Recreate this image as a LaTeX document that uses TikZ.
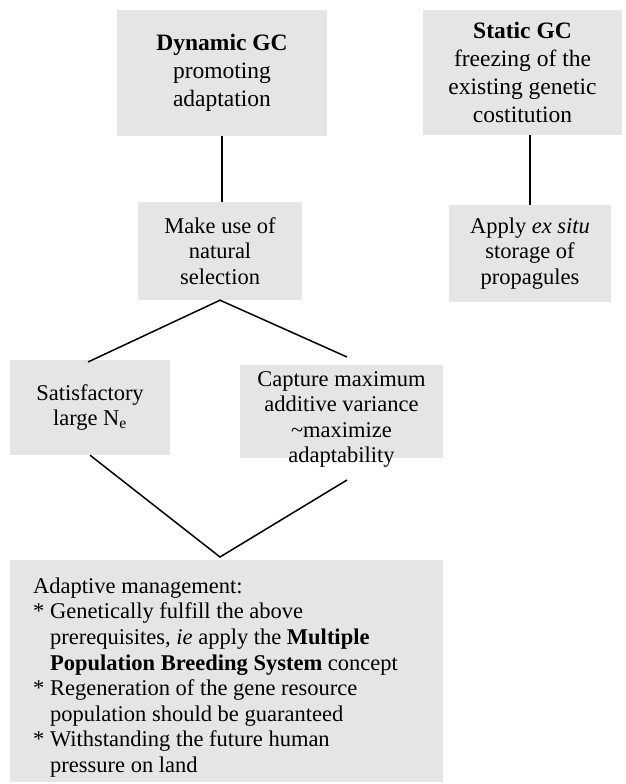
\documentclass[tikz,border=0pt]{standalone}
\usepackage{fontspec}
\setmainfont{Liberation Serif}
\usetikzlibrary{calc}
\definecolor{boxgray}{RGB}{229,229,229}
\begin{document}
\begin{tikzpicture}[x=1pt,y=-1pt,
  gbox/.style={fill=boxgray, draw=none, inner sep=0pt, align=center},
  topfont/.style={font=\fontsize{23.5}{28}\selectfont},
  lowfont/.style={font=\fontsize{22.5}{25.6}\selectfont},
  conn/.style={line width=1.5pt, black}]
\useasboundingbox (0,0) rectangle (625,784);
\fill[white] (0,0) rectangle (625,784);

\node[gbox, topfont, minimum width=210pt, minimum height=126pt] (dyn) at (222,73)
  {\textbf{Dynamic GC}\\promoting\\adaptation};
\node[gbox, topfont, minimum width=199pt, minimum height=125pt] (stat) at (522.5,72.5)
  {\textbf{Static GC}\\freezing of the\\existing genetic\\costitution};
\node[gbox, lowfont, minimum width=164pt, minimum height=98pt] (make) at (220,251)
  {Make use of\\natural\\selection};
\node[gbox, lowfont, minimum width=162pt, minimum height=97pt] (apply) at (530,253.5)
  {Apply \textit{ex situ}\\storage of\\propagules};
\node[gbox, lowfont, minimum width=160pt, minimum height=95pt] (sat) at (90,407.5)
  {Satisfactory\\large N\textsubscript{e}};
\node[gbox, minimum width=203pt, minimum height=93pt] (capbox) at (341.5,411.5) {};
\node[lowfont, align=center, inner sep=0pt] (cap) at (341.5,419.5)
  {Capture maximum\\additive variance\\\textasciitilde maximize\\adaptability};
\node[gbox, minimum width=433pt, minimum height=222pt] (adaptbox) at (226.5,671) {};
\node[lowfont, align=left, inner sep=0pt, anchor=north west] (adapt) at (33,577.5)
  {Adaptive management:\\
   {*} Genetically fulfill the above\\
   \hspace*{17pt}prerequisites, \textit{ie} apply the \textbf{Multiple}\\
   \hspace*{17pt}\textbf{Population Breeding System} concept\\
   {*} Regeneration of the gene resource\\
   \hspace*{17pt}population should be guaranteed\\
   {*} Withstanding the future human\\
   \hspace*{17pt}pressure on land};

\coordinate (satTop) at (88,362);
\coordinate (capTop) at (347,357);
\coordinate (capBot) at (347,480);
\coordinate (vApex) at (220,557);

\draw[conn] (dyn.south) -- (dyn.south |- make.north);
\draw[conn] (apply.north) -- (apply.north |- stat.south);
\draw[conn] (satTop) -- (make.south) -- (capTop);
\draw[conn] (sat.south) -- (vApex) -- (capBot);
\end{tikzpicture}
\end{document}
